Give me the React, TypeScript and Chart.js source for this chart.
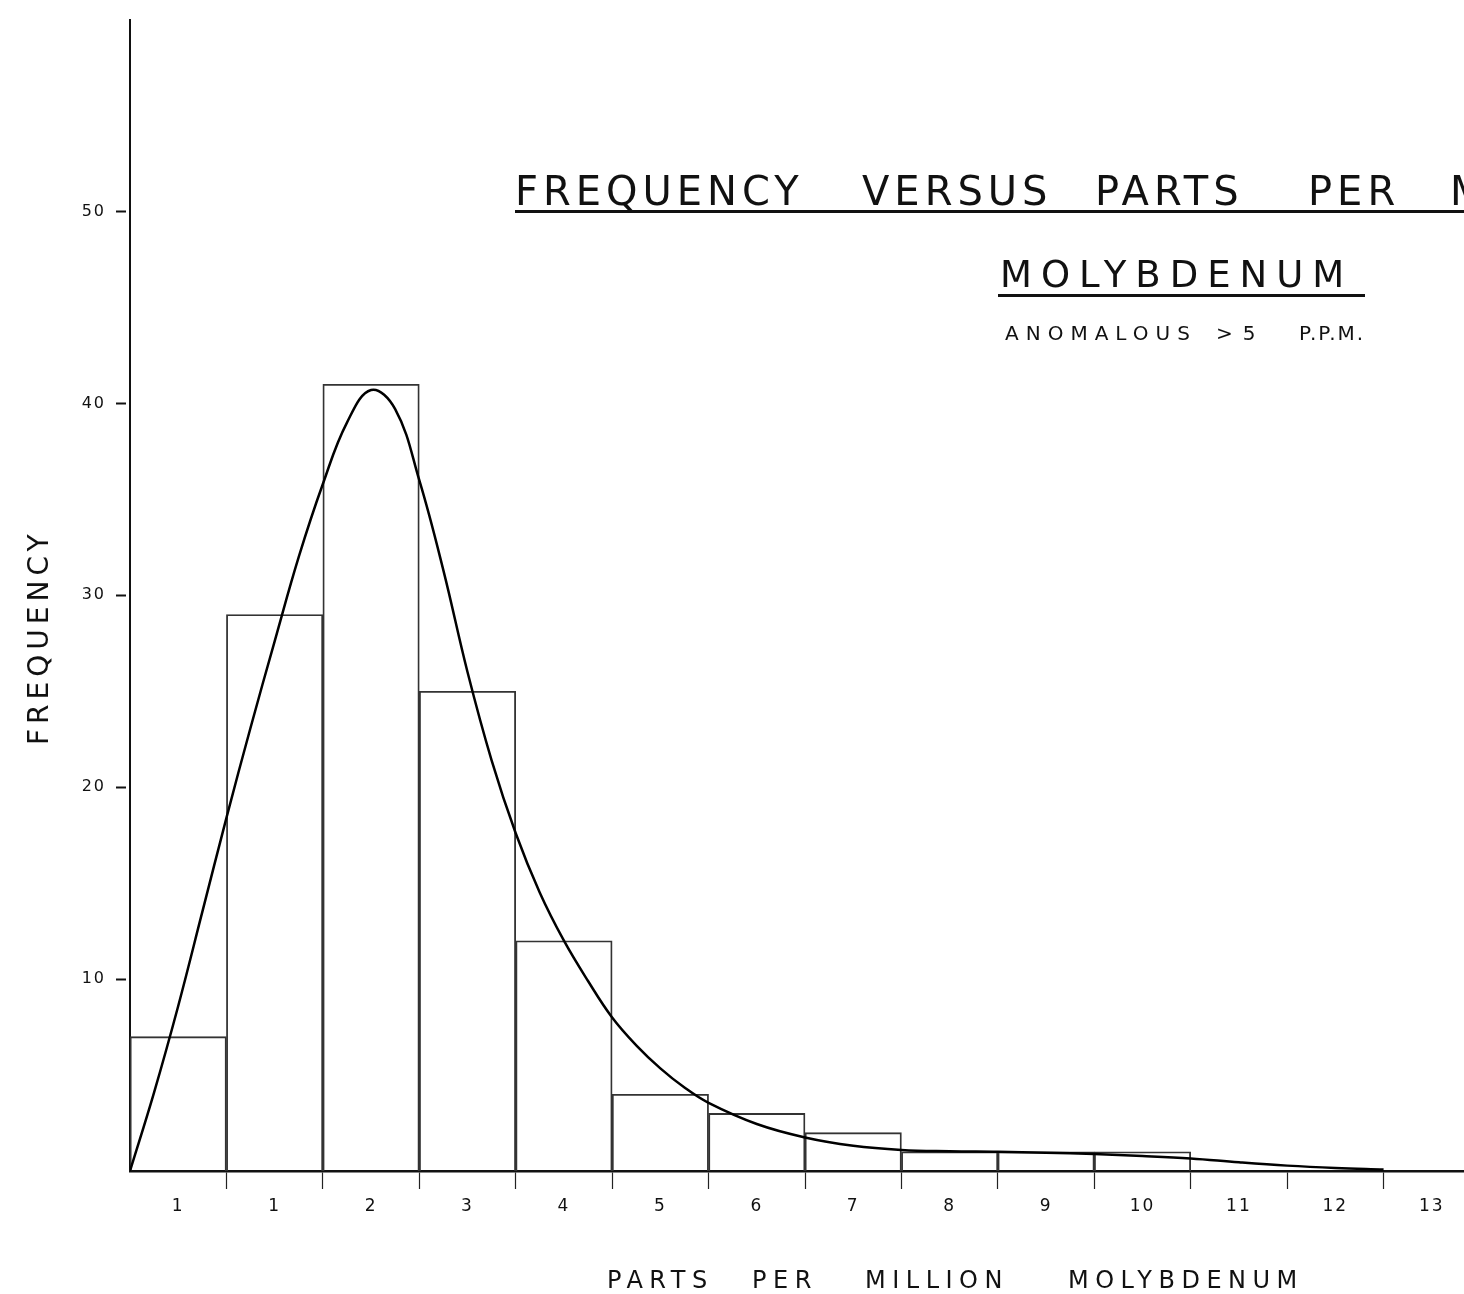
import React, { useEffect, useRef } from 'react';
import { Chart, registerables } from 'chart.js';

Chart.register(...registerables);

// ---- data ----
const binLabels = ['1', '1', '2', '3', '4', '5', '6', '7', '8', '9', '10', '11', '12', '13'];
const frequency = [7, 29, 41, 25, 12, 4, 3, 2, 1, 1, 1, 0, 0, 0];
// fitted curve, x measured in bin widths from the left edge of the first bin
const curveX = [0, 0.25, 0.5, 0.75, 1, 1.25, 1.5, 1.75, 2, 2.25, 2.5, 2.75, 3, 3.25, 3.5, 3.75, 4, 4.25, 4.5, 4.75, 5, 5.25, 5.5, 5.75, 6, 6.5, 7, 7.5, 8, 8.5, 9, 9.5, 10, 10.5, 11, 11.5, 12, 12.5, 13];
const curveY = [0, 4.1, 8.6, 13.5, 18.4, 23.1, 27.6, 32, 35.8, 39, 40.7, 39.7, 36, 31.3, 26, 21.4, 17.6, 14.5, 12, 9.9, 8, 6.55, 5.35, 4.35, 3.55, 2.45, 1.75, 1.32, 1.1, 1.03, 1, 0.95, 0.88, 0.78, 0.65, 0.45, 0.28, 0.16, 0.08];
const yTicks = [10, 20, 30, 40, 50];
const titleWords = ['FREQUENCY', 'VERSUS', 'PARTS', 'PER', 'MILLION'];
const subtitle = 'MOLYBDENUM';
const noteWords = ['ANOMALOUS', '>5', 'P.P.M.'];
const xTitleWords = ['PARTS', 'PER', 'MILLION', 'MOLYBDENUM'];
const yTitle = 'FREQUENCY';

const FONT = '"DejaVu Sans", "Liberation Sans", sans-serif';
const INK = '#111';

const textPlugin = {
  id: 'lettering',
  beforeDraw(chart: any) {
    (chart.ctx as any).letterSpacing = '2px';
  },
  afterDraw(chart: any) {
    const ctx = chart.ctx as CanvasRenderingContext2D;
    ctx.save();
    ctx.fillStyle = INK;
    ctx.textAlign = 'left';
    ctx.textBaseline = 'alphabetic';
    const draw = (word: string, x: number, y: number, size: number, spacing: number) => {
      ctx.font = `${size}px ${FONT}`;
      (ctx as any).letterSpacing = `${spacing}px`;
      ctx.fillText(word, x, y);
    };
    // main title (runs off the right edge, as in the reference)
    [515, 862, 1095, 1308, 1450].forEach((x, i) => draw(titleWords[i], x, 205, 40, 5));
    ctx.fillRect(515, 210, 1000, 3);
    // subtitle
    draw(subtitle, 1000, 287, 37, 9);
    ctx.fillRect(998, 294, 367, 3);
    // note
    draw(noteWords[0], 1005, 340, 20, 7);
    draw(noteWords[1], 1216, 340, 20, 10);
    draw(noteWords[2], 1299, 340, 20, 2);
    // x-axis title
    [607, 752, 865, 1068].forEach((x, i) => draw(xTitleWords[i], x, 1288, 24, 6.5));
    // y-axis title
    ctx.translate(48, 745);
    ctx.rotate(-Math.PI / 2);
    ctx.font = `28px ${FONT}`;
    (ctx as any).letterSpacing = '5px';
    ctx.fillText(yTitle, 0, 0);
    ctx.restore();
  },
};

export default function App() {
  const ref = useRef<HTMLCanvasElement | null>(null);

  useEffect(() => {
    if (!ref.current) return;
    const chart = new Chart(ref.current, {
      type: 'bar',
      data: {
        labels: binLabels,
        datasets: [
          {
            type: 'line',
            label: 'curve',
            data: curveX.map((x, i) => ({ x, y: curveY[i] })),
            xAxisID: 'x2',
            yAxisID: 'y',
            borderColor: '#000',
            borderWidth: 2.5,
            pointRadius: 0,
            fill: false,
            tension: 0.4,
            order: 0,
          } as any,
          {
            type: 'bar',
            label: 'frequency',
            data: frequency,
            xAxisID: 'x',
            yAxisID: 'y',
            backgroundColor: 'rgba(255,255,255,0)',
            borderColor: '#333',
            borderWidth: 1.2,
            barPercentage: 1,
            categoryPercentage: 1,
            grouped: false,
            order: 1,
          } as any,
        ],
      },
      options: {
        responsive: false,
        animation: false,
        devicePixelRatio: 1,
        layout: { padding: { top: 11, left: 0, right: 20, bottom: 0 } },
        plugins: {
          legend: { display: false },
          tooltip: { enabled: false },
          title: { display: false },
        },
        scales: {
          x: {
            type: 'category',
            offset: true,
            grid: {
              offset: true,
              drawOnChartArea: false,
              drawTicks: true,
              tickLength: 18,
              tickWidth: 1.2,
              tickColor: (c: any) => (c.index === 0 ? 'rgba(0,0,0,0)' : '#222'),
            },
            border: { display: true, color: INK, width: 2.5 },
            ticks: {
              color: INK,
              font: { family: FONT, size: 17 },
              padding: 7,
              maxRotation: 0,
              autoSkip: false,
            },
            afterFit: (s: any) => {
              s.height = 123;
            },
          },
          x2: {
            type: 'linear',
            min: 0,
            max: 14,
            offset: false,
            display: false,
            grid: { offset: false },
          },
          y: {
            type: 'linear',
            min: 0,
            max: 60,
            afterBuildTicks: (s: any) => {
              s.ticks = yTicks.map((v) => ({ value: v }));
            },
            grid: {
              drawOnChartArea: false,
              drawTicks: true,
              tickLength: 14,
              tickWidth: 2,
              tickColor: INK,
              tickBorderDash: [10, 100],
            },
            border: { display: true, color: INK, width: 2 },
            ticks: {
              color: INK,
              font: { family: FONT, size: 16 },
              padding: 10,
            },
            afterFit: (s: any) => {
              s.width = 130;
            },
          },
        },
      } as any,
      plugins: [textPlugin],
    });
    return () => chart.destroy();
  }, []);

  return (
    <div
      style={{
        position: 'fixed',
        left: 0,
        top: 0,
        width: 1464,
        height: 1294,
        overflow: 'hidden',
        background: '#fff',
      }}
    >
      <canvas ref={ref} width={1500} height={1294} style={{ display: 'block', width: 1500, height: 1294 }} />
    </div>
  );
}
